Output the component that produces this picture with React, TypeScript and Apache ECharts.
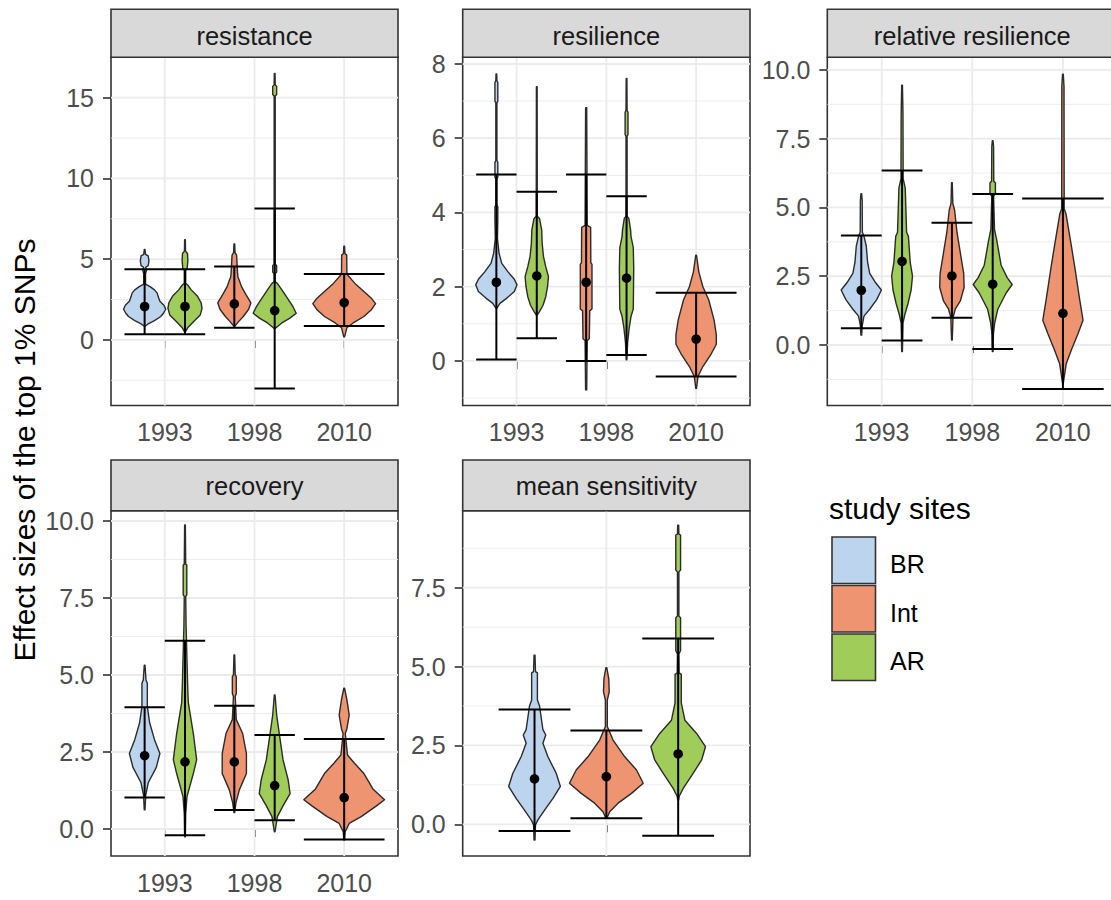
import React, { useEffect, useRef } from "react";
import * as echarts from "echarts";

const FONT = '"Liberation Sans", Arial, Helvetica, sans-serif';

const yearLabels = ["1993", "1998", "2010"];
const sensitivityCategories = [""];
const siteNames = ["BR", "Int", "AR"];
const siteColors: Record<string, string> = { BR: "#BCD4EE", Int: "#EE9470", AR: "#A0CC5A" };
const panelTitles = ["resistance", "resilience", "relative resilience", "recovery", "mean sensitivity"];
const yAxisTitle = "Effect sizes of the top 1% SNPs";
const legendTitle = "study sites";

// y-axis limits
const resistanceYRange = [-4.06, 17.5];
const resilienceYRange = [-1.2, 8.18];
const relResilienceYRange = [-2.2, 10.46];
const recoveryYRange = [-0.877, 10.335];
const sensitivityYRange = [-1.005, 9.94];

// y-axis breaks and tick labels
const resistanceBreaks = [0, 5, 10, 15];
const resistanceTickLabels = ["0", "5", "10", "15"];
const resilienceBreaks = [0, 2, 4, 6, 8];
const resilienceTickLabels = ["0", "2", "4", "6", "8"];
const relResilienceBreaks = [0, 2.5, 5, 7.5, 10];
const relResilienceTickLabels = ["0.0", "2.5", "5.0", "7.5", "10.0"];
const recoveryBreaks = [0, 2.5, 5, 7.5, 10];
const recoveryTickLabels = ["0.0", "2.5", "5.0", "7.5", "10.0"];
const sensitivityBreaks = [0, 2.5, 5, 7.5];
const sensitivityTickLabels = ["0.0", "2.5", "5.0", "7.5"];

type Violin = { year: string; site: string; mean: number; lo: number; hi: number; profile: number[][] };

// profile: [value, half-width in x-axis units], from top to bottom
const resistanceViolins: Violin[] = [
  { year: "1993", site: "BR", mean: 2.07, lo: 0.35, hi: 4.38, profile: [[5.6, 0.004], [5.3, 0.01], [5.2, 0.04], [4.9, 0.048], [4.6, 0.04], [4.5, 0.012], [4.3, 0.02], [4.1, 0.01], [3.45, 0.01], [3.3, 0.06], [3.1, 0.11], [2.9, 0.14], [2.7, 0.15], [2.4, 0.17], [2.15, 0.215], [1.9, 0.235], [1.65, 0.21], [1.45, 0.18], [1.2, 0.11], [1.0, 0.04], [0.85, 0.005]] },
  { year: "1993", site: "AR", mean: 2.07, lo: 0.35, hi: 4.38, profile: [[6.2, 0.004], [5.5, 0.006], [5.35, 0.028], [4.9, 0.032], [4.45, 0.025], [4.3, 0.008], [3.5, 0.008], [3.4, 0.03], [3.1, 0.07], [2.7, 0.14], [2.3, 0.18], [1.95, 0.19], [1.55, 0.17], [1.15, 0.1], [0.75, 0.03], [0.5, 0.005]] },
  { year: "1998", site: "Int", mean: 2.23, lo: 0.76, hi: 4.55, profile: [[5.95, 0.004], [5.4, 0.008], [5.25, 0.025], [4.8, 0.03], [4.2, 0.035], [3.9, 0.04], [3.7, 0.055], [3.3, 0.08], [2.8, 0.13], [2.3, 0.185], [1.9, 0.16], [1.45, 0.1], [1.15, 0.05], [0.87, 0.008]] },
  { year: "1998", site: "AR", mean: 1.82, lo: -3.0, hi: 8.14, profile: [[16.5, 0.004], [15.8, 0.006], [15.7, 0.022], [15.2, 0.022], [15.1, 0.006], [4.7, 0.006], [4.6, 0.022], [4.2, 0.022], [4.1, 0.006], [3.6, 0.006], [3.5, 0.03], [3.1, 0.08], [2.6, 0.14], [2.1, 0.2], [1.65, 0.24], [1.35, 0.17], [1.05, 0.08], [0.72, 0.008]] },
  { year: "2010", site: "Int", mean: 2.31, lo: 0.87, hi: 4.09, profile: [[5.8, 0.004], [5.35, 0.008], [5.25, 0.028], [4.2, 0.03], [4.0, 0.04], [3.5, 0.12], [3.0, 0.22], [2.6, 0.3], [2.25, 0.35], [1.85, 0.3], [1.45, 0.22], [1.05, 0.1], [0.75, 0.03], [0.2, 0.005]] },
];

const resilienceViolins: Violin[] = [
  { year: "1993", site: "BR", mean: 2.12, lo: 0.04, hi: 5.02, profile: [[7.73, 0.004], [7.55, 0.006], [7.5, 0.016], [7.0, 0.016], [6.95, 0.006], [5.4, 0.006], [5.35, 0.016], [4.95, 0.016], [4.9, 0.006], [4.2, 0.006], [4.15, 0.016], [3.8, 0.016], [3.3, 0.012], [2.9, 0.03], [2.63, 0.06], [2.4, 0.13], [2.2, 0.2], [2.05, 0.23], [1.87, 0.2], [1.7, 0.12], [1.55, 0.04], [1.42, 0.006]] },
  { year: "1993", site: "AR", mean: 2.29, lo: 0.61, hi: 4.56, profile: [[7.39, 0.004], [3.9, 0.006], [3.84, 0.03], [3.53, 0.055], [3.17, 0.06], [2.81, 0.075], [2.54, 0.1], [2.27, 0.13], [2.0, 0.12], [1.73, 0.1], [1.5, 0.07], [1.33, 0.03], [1.24, 0.006]] },
  { year: "1998", site: "Int", mean: 2.12, lo: 0.0, hi: 5.02, profile: [[6.82, 0.006], [3.65, 0.012], [3.6, 0.05], [2.65, 0.052], [2.6, 0.065], [1.4, 0.065], [1.35, 0.04], [0.6, 0.035], [0.55, 0.012], [-0.78, 0.006]] },
  { year: "1998", site: "AR", mean: 2.23, lo: 0.16, hi: 4.44, profile: [[7.61, 0.004], [6.75, 0.006], [6.7, 0.016], [6.1, 0.016], [6.05, 0.006], [3.9, 0.006], [3.84, 0.025], [3.53, 0.045], [3.35, 0.05], [3.05, 0.075], [2.5, 0.08], [1.4, 0.075], [1.2, 0.05], [0.9, 0.03], [0.5, 0.012], [0.03, 0.004]] },
  { year: "2010", site: "Int", mean: 0.59, lo: -0.42, hi: 1.84, profile: [[2.85, 0.004], [2.4, 0.03], [2.0, 0.075], [1.65, 0.14], [1.1, 0.2], [0.7, 0.225], [0.45, 0.225], [0.2, 0.17], [-0.15, 0.075], [-0.42, 0.02], [-0.74, 0.004]] },
];

const relResilienceViolins: Violin[] = [
  { year: "1993", site: "BR", mean: 1.99, lo: 0.61, hi: 3.98, profile: [[5.5, 0.004], [5.25, 0.01], [4.1, 0.012], [3.95, 0.03], [3.6, 0.055], [3.0, 0.07], [2.6, 0.093], [2.3, 0.15], [2.0, 0.222], [1.65, 0.17], [1.3, 0.093], [1.05, 0.03], [0.7, 0.01], [0.36, 0.004]] },
  { year: "1993", site: "AR", mean: 3.04, lo: 0.16, hi: 6.34, profile: [[9.45, 0.004], [8.4, 0.01], [6.05, 0.012], [5.7, 0.035], [4.1, 0.05], [3.95, 0.07], [3.0, 0.09], [2.5, 0.115], [2.0, 0.1], [1.5, 0.065], [1.1, 0.03], [0.8, 0.01], [-0.24, 0.004]] },
  { year: "1998", site: "Int", mean: 2.51, lo: 0.99, hi: 4.44, profile: [[5.9, 0.004], [5.15, 0.01], [4.9, 0.03], [4.1, 0.056], [3.35, 0.093], [2.6, 0.13], [2.1, 0.135], [1.6, 0.093], [1.3, 0.037], [1.0, 0.012], [0.18, 0.004]] },
  { year: "1998", site: "AR", mean: 2.21, lo: -0.15, hi: 5.49, profile: [[7.43, 0.004], [7.2, 0.01], [5.95, 0.012], [5.9, 0.03], [5.5, 0.03], [5.4, 0.01], [4.2, 0.02], [3.8, 0.045], [2.9, 0.093], [2.45, 0.16], [2.2, 0.215], [1.9, 0.15], [1.3, 0.056], [0.8, 0.022], [0.4, 0.008], [-0.24, 0.004]] },
  { year: "2010", site: "Int", mean: 1.15, lo: -1.6, hi: 5.33, profile: [[9.85, 0.004], [9.4, 0.012], [4.95, 0.014], [4.75, 0.035], [3.6, 0.093], [2.85, 0.13], [1.65, 0.185], [0.9, 0.222], [0.42, 0.167], [-0.18, 0.093], [-0.67, 0.037], [-1.39, 0.004]] },
];

const recoveryViolins: Violin[] = [
  { year: "1993", site: "BR", mean: 2.38, lo: 1.02, hi: 3.95, profile: [[5.32, 0.004], [4.84, 0.015], [4.73, 0.03], [3.97, 0.03], [3.45, 0.056], [2.9, 0.11], [2.45, 0.17], [2.0, 0.13], [1.5, 0.04], [1.1, 0.012], [0.62, 0.004]] },
  { year: "1993", site: "AR", mean: 2.18, lo: -0.2, hi: 6.11, profile: [[9.87, 0.004], [8.6, 0.008], [8.57, 0.02], [7.6, 0.02], [7.55, 0.008], [6.6, 0.012], [4.62, 0.03], [4.1, 0.037], [3.1, 0.093], [2.25, 0.13], [1.8, 0.093], [1.05, 0.022], [0.5, 0.008], [-0.25, 0.004]] },
  { year: "1998", site: "Int", mean: 2.18, lo: 0.62, hi: 4.0, profile: [[5.65, 0.004], [5.0, 0.01], [4.95, 0.022], [4.4, 0.022], [4.3, 0.01], [3.55, 0.022], [3.1, 0.093], [2.45, 0.135], [1.8, 0.135], [1.27, 0.056], [0.85, 0.018], [0.53, 0.004]] },
  { year: "1998", site: "AR", mean: 1.41, lo: 0.28, hi: 3.05, profile: [[4.35, 0.004], [3.7, 0.022], [3.0, 0.056], [2.25, 0.093], [1.6, 0.15], [1.15, 0.172], [0.75, 0.093], [0.4, 0.03], [-0.09, 0.004]] },
  { year: "2010", site: "Int", mean: 1.02, lo: -0.34, hi: 2.92, profile: [[4.57, 0.004], [4.2, 0.03], [3.7, 0.056], [3.25, 0.03], [3.1, 0.012], [2.4, 0.037], [2.15, 0.11], [1.8, 0.22], [1.3, 0.32], [0.95, 0.45], [0.75, 0.36], [0.4, 0.19], [0.18, 0.056], [-0.1, 0.01], [-0.36, 0.004]] },
];

const sensitivityViolins: Violin[] = [
  { year: "", site: "BR", mean: 1.44, lo: -0.21, hi: 3.64, profile: [[5.36, 0.002], [4.84, 0.004], [4.8, 0.012], [3.94, 0.012], [3.75, 0.021], [3.0, 0.035], [2.83, 0.047], [2.57, 0.035], [2.14, 0.056], [1.61, 0.091], [1.2, 0.108], [0.82, 0.077], [0.45, 0.042], [0.14, 0.014], [-0.02, 0.004], [-0.5, 0.002]] },
  { year: "", site: "Int", mean: 1.51, lo: 0.19, hi: 2.97, profile: [[4.96, 0.002], [4.62, 0.01], [4.2, 0.012], [3.94, 0.004], [3.1, 0.004], [2.67, 0.028], [2.14, 0.077], [1.72, 0.126], [1.3, 0.154], [0.98, 0.105], [0.67, 0.049], [0.4, 0.014], [0.19, 0.002]] },
  { year: "", site: "AR", mean: 2.23, lo: -0.36, hi: 5.89, profile: [[9.48, 0.002], [9.2, 0.003], [9.17, 0.01], [8.06, 0.01], [8.0, 0.003], [6.6, 0.003], [6.55, 0.01], [5.5, 0.01], [5.4, 0.003], [4.8, 0.004], [4.75, 0.013], [3.85, 0.013], [3.3, 0.028], [2.88, 0.077], [2.46, 0.114], [2.04, 0.098], [1.62, 0.063], [1.14, 0.021], [0.88, 0.004], [0.77, 0.002]] },
];

type PanelDef = {
  title: string;
  categories: string[];
  violins: Violin[];
  yRange: number[];
  breaks: number[];
  tickLabels: string[];
  showXLabels: boolean;
  rect: { left: number; top: number; width: number; height: number };
  stripTop: number;
  stripTextY: number;
};

const ROW1_TOP = 57.3;
const ROW1_H = 348.2;
const ROW2_TOP = 510.7;
const ROW2_H = 345.3;

const panels: PanelDef[] = [
  { title: panelTitles[0], categories: yearLabels, violins: resistanceViolins, yRange: resistanceYRange, breaks: resistanceBreaks, tickLabels: resistanceTickLabels, showXLabels: true, rect: { left: 111, top: ROW1_TOP, width: 287, height: ROW1_H }, stripTop: 9.3, stripTextY: 36 },
  { title: panelTitles[1], categories: yearLabels, violins: resilienceViolins, yRange: resilienceYRange, breaks: resilienceBreaks, tickLabels: resilienceTickLabels, showXLabels: true, rect: { left: 462.7, top: ROW1_TOP, width: 287.3, height: ROW1_H }, stripTop: 9.3, stripTextY: 36 },
  { title: panelTitles[2], categories: yearLabels, violins: relResilienceViolins, yRange: relResilienceYRange, breaks: relResilienceBreaks, tickLabels: relResilienceTickLabels, showXLabels: true, rect: { left: 827.3, top: ROW1_TOP, width: 290, height: ROW1_H }, stripTop: 9.3, stripTextY: 36 },
  { title: panelTitles[3], categories: yearLabels, violins: recoveryViolins, yRange: recoveryYRange, breaks: recoveryBreaks, tickLabels: recoveryTickLabels, showXLabels: true, rect: { left: 111, top: ROW2_TOP, width: 287, height: ROW2_H }, stripTop: 460, stripTextY: 486 },
  { title: panelTitles[4], categories: sensitivityCategories, violins: sensitivityViolins, yRange: sensitivityYRange, breaks: sensitivityBreaks, tickLabels: sensitivityTickLabels, showXLabels: false, rect: { left: 462.7, top: ROW2_TOP, width: 287.3, height: ROW2_H }, stripTop: 460, stripTextY: 486 },
];

function placeViolins(violins: Violin[], categories: string[]) {
  const dodge = 0.9;
  return violins.map((v) => {
    const group = violins.filter((o) => o.year === v.year);
    const n = group.length;
    const k = group.indexOf(v);
    const ci = categories.indexOf(v.year) + 1;
    const cx = ci + (k - (n - 1) / 2) * (dodge / n);
    return { ...v, cx, cap: dodge / n / 2 };
  });
}

function minorBreaks(breaks: number[], range: number[]) {
  const step = breaks[1] - breaks[0];
  const out: number[] = [];
  for (let b = breaks[0] - step; b <= breaks[breaks.length - 1] + step; b += step) {
    const m = b + step / 2;
    if (m > range[0] && m < range[1]) out.push(m);
  }
  return out;
}

function buildOption() {
  const grid: any[] = [];
  const xAxis: any[] = [];
  const yAxis: any[] = [];
  const series: any[] = [];
  const graphic: any[] = [];

  panels.forEach((p, i) => {
    const xMax = p.categories.length + 0.6;
    const xMin = 0.4;
    grid.push({
      ...p.rect,
      show: true,
      borderColor: "#333333",
      borderWidth: 1.6,
      backgroundColor: "transparent",
      containLabel: false,
      outerBoundsMode: "none",
    });
    const catTicks = p.categories.map((_, j) => j + 1);
    xAxis.push({
      type: "value",
      gridIndex: i,
      min: xMin,
      max: xMax,
      axisLine: { show: false },
      splitLine: { show: false },
      axisTick: { show: true, customValues: catTicks, length: 8, lineStyle: { color: "#333333", width: 1.6 } },
      axisLabel: {
        show: p.showXLabels,
        customValues: catTicks,
        margin: 14,
        fontSize: 25,
        fontFamily: FONT,
        color: "#4D4D4D",
        formatter: (val: number) => p.categories[Math.round(val) - 1] ?? "",
      },
    });
    yAxis.push({
      type: "value",
      gridIndex: i,
      min: p.yRange[0],
      max: p.yRange[1],
      axisLine: { show: false },
      splitLine: { show: false },
      axisTick: { show: true, customValues: p.breaks, length: 8, lineStyle: { color: "#333333", width: 1.6 } },
      axisLabel: {
        customValues: p.breaks,
        margin: 17,
        fontSize: 25,
        fontFamily: FONT,
        color: "#4D4D4D",
        formatter: (val: number) => {
          const k = p.breaks.findIndex((b) => Math.abs(b - val) < 1e-6);
          return k >= 0 ? p.tickLabels[k] : "";
        },
      },
    });

    // grid lines
    const gridData: number[][] = [];
    minorBreaks(p.breaks, p.yRange).forEach((m) => gridData.push([0, m, 0]));
    p.breaks.forEach((b) => gridData.push([0, b, 1]));
    catTicks.forEach((c) => gridData.push([1, c, 1]));
    series.push({
      type: "custom",
      xAxisIndex: i,
      yAxisIndex: i,
      silent: true,
      z: 1,
      data: gridData,
      renderItem: (params: any, api: any) => {
        const cs = params.coordSys;
        const kind = api.value(0);
        const v = api.value(1);
        const major = api.value(2) === 1;
        const style = { stroke: "#EBEBEB", lineWidth: major ? 1.8 : 0.9 };
        if (kind === 0) {
          const y = api.coord([xMin, v])[1];
          return { type: "line", shape: { x1: cs.x, y1: y, x2: cs.x + cs.width, y2: y }, style };
        }
        const x = api.coord([v, p.yRange[0]])[0];
        return { type: "line", shape: { x1: x, y1: cs.y, x2: x, y2: cs.y + cs.height }, style };
      },
    });

    // violins, error bars, means
    const placed = placeViolins(p.violins, p.categories);
    series.push({
      type: "custom",
      name: p.title,
      xAxisIndex: i,
      yAxisIndex: i,
      silent: true,
      z: 2,
      data: placed.map((_, j) => [j, 0]),
      renderItem: (_params: any, api: any) => {
        const v = placed[api.value(0)];
        const left = v.profile.map(([y, w]) => api.coord([v.cx - w, y]));
        const right = v.profile.slice().reverse().map(([y, w]) => api.coord([v.cx + w, y]));
        const lo = api.coord([v.cx, v.lo]);
        const hi = api.coord([v.cx, v.hi]);
        const capL = api.coord([v.cx - v.cap, v.lo])[0];
        const capR = api.coord([v.cx + v.cap, v.lo])[0];
        const m = api.coord([v.cx, v.mean]);
        const ls = { stroke: "#000000", lineWidth: 2 };
        return {
          type: "group",
          children: [
            { type: "polygon", shape: { points: [...left, ...right] }, style: { fill: siteColors[v.site], stroke: "#2B2B2B", lineWidth: 1.4, lineJoin: "round" } },
            { type: "line", shape: { x1: lo[0], y1: lo[1], x2: hi[0], y2: hi[1] }, style: ls },
            { type: "line", shape: { x1: capL, y1: lo[1], x2: capR, y2: lo[1] }, style: ls },
            { type: "line", shape: { x1: capL, y1: hi[1], x2: capR, y2: hi[1] }, style: ls },
            { type: "circle", shape: { cx: m[0], cy: m[1], r: 4.8 }, style: { fill: "#000000" } },
          ],
        };
      },
    });

    // strip
    const stripH = p.rect.top - p.stripTop;
    graphic.push({
      type: "rect",
      shape: { x: p.rect.left, y: p.stripTop, width: p.rect.width, height: stripH },
      style: { fill: "#D9D9D9", stroke: "#333333", lineWidth: 1.6 },
      z: 10,
    });
    graphic.push({
      type: "text",
      x: p.rect.left + p.rect.width / 2,
      y: p.stripTextY,
      style: { text: p.title, fill: "#1A1A1A", font: `25.5px ${FONT}`, textAlign: "center", textVerticalAlign: "middle", align: "center", verticalAlign: "middle" },
      z: 11,
    });
  });

  // y-axis title
  graphic.push({
    type: "text",
    x: 24.5,
    y: 450,
    rotation: Math.PI / 2,
    style: { text: yAxisTitle, fill: "#000000", font: `30px ${FONT}`, textAlign: "center", textVerticalAlign: "middle", align: "center", verticalAlign: "middle" },
  });

  // legend
  graphic.push({
    type: "text",
    x: 829,
    y: 508,
    style: { text: legendTitle, fill: "#000000", font: `30px ${FONT}`, textAlign: "left", textVerticalAlign: "middle", align: "left", verticalAlign: "middle" },
  });
  const keyTops = [537, 585.5, 634];
  siteNames.forEach((s, k) => {
    graphic.push({
      type: "rect",
      shape: { x: 832, y: keyTops[k], width: 43.5, height: 46.5 },
      style: { fill: siteColors[s], stroke: "#333333", lineWidth: 1.6 },
    });
    graphic.push({
      type: "text",
      x: 890,
      y: keyTops[k] + 27,
      style: { text: s, fill: "#000000", font: `25px ${FONT}`, textAlign: "left", textVerticalAlign: "middle", align: "left", verticalAlign: "middle" },
    });
  });

  return { animation: false, backgroundColor: "#FFFFFF", grid, xAxis, yAxis, series, graphic };
}

export default function App() {
  const ref = useRef<HTMLDivElement>(null);
  useEffect(() => {
    if (!ref.current) return;
    const chart = echarts.init(ref.current, undefined, { renderer: "svg" });
    chart.setOption(buildOption() as any);
    return () => chart.dispose();
  }, []);
  return <div ref={ref} style={{ position: "fixed", left: 0, top: 0, width: 1111, height: 900, background: "#fff" }} />;
}
